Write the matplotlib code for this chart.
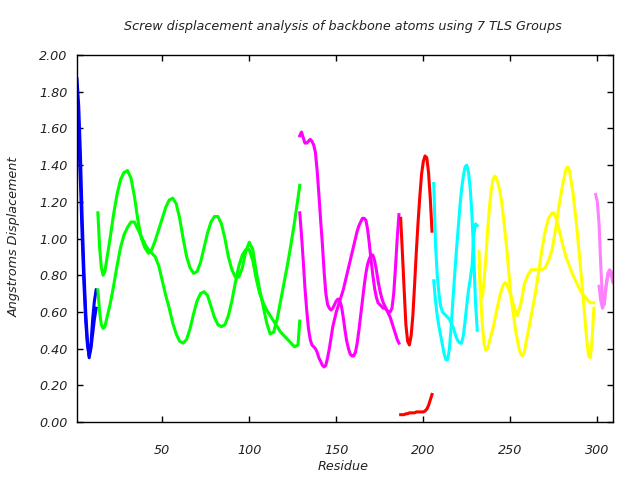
import matplotlib
matplotlib.use('Agg')
import matplotlib.pyplot as plt
from matplotlib.ticker import FormatStrFormatter, MultipleLocator

# ---------------- data (residue, screw displacement in Angstroms) ----------------
blue_x = [1, 2, 3, 4, 5, 6, 7, 8, 9, 10, 11, 12]
blue_a = [1.87, 1.72, 1.45, 1.10, 0.82, 0.60, 0.44, 0.35, 0.42, 0.56, 0.66, 0.72]
blue_b = [1.67, 1.55, 1.30, 1.00, 0.75, 0.55, 0.42, 0.36, 0.40, 0.48, 0.56, 0.62]

green_x = [13, 14, 15, 16, 17, 18, 20, 22, 24, 26, 28, 30, 32, 34, 36, 38, 40, 42, 44,
           46, 48, 50, 52, 54, 56, 58, 60, 62, 64, 66, 68, 70, 72, 74, 76, 78, 80, 82,
           84, 86, 88, 90, 92, 94, 96, 98, 100, 102, 104, 106, 108, 110, 112, 114, 116,
           118, 120, 122, 124, 126, 128, 129]
green_a = [1.14, 0.95, 0.84, 0.80, 0.82, 0.88, 1.00, 1.13, 1.24, 1.32, 1.36, 1.37, 1.33,
           1.23, 1.10, 1.00, 0.95, 0.92, 0.94, 0.99, 1.05, 1.11, 1.17, 1.21, 1.22, 1.19,
           1.11, 1.00, 0.90, 0.84, 0.81, 0.82, 0.87, 0.95, 1.03, 1.09, 1.12, 1.12, 1.08,
           1.00, 0.90, 0.83, 0.79, 0.79, 0.84, 0.93, 0.98, 0.94, 0.82, 0.72, 0.63, 0.54,
           0.48, 0.49, 0.56, 0.66, 0.76, 0.86, 0.97, 1.09, 1.22, 1.29]
green_b = [0.72, 0.60, 0.53, 0.51, 0.52, 0.56, 0.64, 0.74, 0.85, 0.95, 1.02, 1.06, 1.09,
           1.09, 1.05, 1.01, 0.97, 0.94, 0.92, 0.90, 0.85, 0.77, 0.69, 0.62, 0.54, 0.48,
           0.44, 0.43, 0.45, 0.51, 0.59, 0.66, 0.70, 0.71, 0.69, 0.63, 0.57, 0.53, 0.52,
           0.53, 0.58, 0.66, 0.76, 0.85, 0.91, 0.94, 0.94, 0.88, 0.78, 0.70, 0.65, 0.61,
           0.58, 0.55, 0.52, 0.49, 0.47, 0.45, 0.43, 0.41, 0.42, 0.55]

magenta_x = list(range(129, 187))
magenta_a = [1.56, 1.58, 1.55, 1.52, 1.52, 1.53, 1.54, 1.53, 1.51, 1.47, 1.37, 1.24, 1.10,
             0.97, 0.82, 0.70, 0.64, 0.62, 0.61, 0.62, 0.64, 0.66, 0.67, 0.66, 0.63, 0.57,
             0.50, 0.44, 0.40, 0.37, 0.36, 0.36, 0.38, 0.43, 0.50, 0.58, 0.66, 0.74, 0.81,
             0.86, 0.89, 0.91, 0.91, 0.88, 0.83, 0.77, 0.72, 0.68, 0.65, 0.63, 0.61, 0.59,
             0.57, 0.54, 0.51, 0.48, 0.45, 0.43]
magenta_b = [1.14, 1.02, 0.88, 0.73, 0.61, 0.51, 0.45, 0.42, 0.41, 0.40, 0.38, 0.35, 0.33,
             0.31, 0.30, 0.31, 0.35, 0.40, 0.46, 0.52, 0.56, 0.60, 0.63, 0.66, 0.69, 0.72,
             0.76, 0.80, 0.84, 0.88, 0.92, 0.96, 1.00, 1.04, 1.07, 1.09, 1.11, 1.11, 1.10,
             1.05, 0.97, 0.88, 0.80, 0.73, 0.68, 0.65, 0.64, 0.63, 0.62, 0.62, 0.61, 0.60,
             0.60, 0.62, 0.70, 0.84, 1.00, 1.13]

red_x = list(range(187, 206))
red_a = [1.11, 0.92, 0.72, 0.53, 0.44, 0.42, 0.47, 0.58, 0.75, 0.93, 1.09, 1.23, 1.35,
         1.42, 1.45, 1.44, 1.36, 1.22, 1.04]
red_b = [0.04, 0.04, 0.04, 0.045, 0.045, 0.05, 0.05, 0.05, 0.05, 0.055, 0.055, 0.055,
         0.055, 0.055, 0.06, 0.07, 0.09, 0.12, 0.15]

cyan_x = list(range(206, 232))
cyan_a = [1.30, 0.97, 0.80, 0.70, 0.63, 0.60, 0.59, 0.58, 0.57, 0.56, 0.54, 0.52, 0.49,
          0.46, 0.44, 0.43, 0.43, 0.47, 0.55, 0.64, 0.72, 0.78, 0.85, 1.02, 1.08, 1.07]
cyan_b = [0.77, 0.66, 0.58, 0.52, 0.47, 0.42, 0.37, 0.34, 0.34, 0.40, 0.52, 0.66, 0.80,
          0.93, 1.05, 1.17, 1.27, 1.34, 1.39, 1.40, 1.36, 1.27, 1.12, 0.90, 0.65, 0.50]

yellow_x1 = [232, 233, 234, 235, 236, 237, 238, 240, 242, 244, 246, 247, 248, 250, 252,
             254, 256, 258, 260, 262, 264, 266, 268, 270, 272, 274, 276, 278, 280, 282,
             283, 284, 286, 288, 290, 292, 294, 295, 296, 297, 298]
yellow_a = [0.93, 0.68, 0.52, 0.42, 0.39, 0.40, 0.44, 0.51, 0.60, 0.69, 0.75, 0.76, 0.75,
            0.70, 0.63, 0.58, 0.64, 0.75, 0.80, 0.83, 0.83, 0.83, 0.83, 0.84, 0.88, 0.94,
            1.05, 1.18, 1.29, 1.38, 1.39, 1.37, 1.25, 1.08, 0.88, 0.66, 0.44, 0.36, 0.35,
            0.45, 0.62]
yellow_x2 = [232, 233, 234, 235, 236, 237, 238, 239, 240, 241, 242, 243, 244, 245, 246,
             247, 248, 249, 250, 251, 252, 253, 254, 255, 256, 257, 258, 260, 262, 264,
             266, 268, 270, 272, 274, 275, 276, 278, 280, 282, 284, 286, 288, 290, 292,
             294, 296, 298]
yellow_b = [0.85, 0.68, 0.68, 0.78, 0.90, 1.05, 1.17, 1.26, 1.32, 1.34, 1.33, 1.30, 1.26,
            1.20, 1.12, 1.03, 0.94, 0.83, 0.72, 0.64, 0.57, 0.50, 0.45, 0.40, 0.37, 0.36,
            0.38, 0.48, 0.58, 0.68, 0.80, 0.93, 1.04, 1.11, 1.14, 1.14, 1.12, 1.05, 0.97,
            0.90, 0.85, 0.80, 0.76, 0.72, 0.69, 0.67, 0.65, 0.65]

violet_x1 = [299, 300, 301, 302, 303, 304, 305, 306, 307, 308, 309]
violet_a = [1.24, 1.20, 1.08, 0.85, 0.66, 0.64, 0.74, 0.81, 0.83, 0.82, 0.77]
violet_x2 = [301, 302, 303, 304, 305, 306, 307, 308, 309]
violet_b = [0.74, 0.66, 0.62, 0.66, 0.74, 0.79, 0.81, 0.80, 0.76]

x_ticks = [50, 100, 150, 200, 250, 300]

# ---------------- plot ----------------
plt.rcParams['font.family'] = ['DejaVu Sans']
fig = plt.figure(figsize=(6.4, 4.8), dpi=100)
ax = fig.add_axes([0.1203, 0.1208, 0.8375, 0.7646])

series = [
    (blue_x, blue_a, '#0000ff'), (blue_x, blue_b, '#0000ff'),
    (green_x, green_a, '#00ff00'), (green_x, green_b, '#00ff00'),
    (magenta_x, magenta_a, '#ff00ff'), (magenta_x, magenta_b, '#ff00ff'),
    (red_x, red_a, '#ff0000'), (red_x, red_b, '#ff0000'),
    (cyan_x, cyan_a, '#00ffff'), (cyan_x, cyan_b, '#00ffff'),
    (yellow_x1, yellow_a, '#ffff00'), (yellow_x2, yellow_b, '#ffff00'),
    (violet_x1, violet_a, '#ff80ff'), (violet_x2, violet_b, '#ff80ff'),
]
for xs, ys, c in series:
    ax.plot(xs, ys, color=c, lw=2.2, solid_joinstyle='round')

ax.set_xlim(1, 309)
ax.set_ylim(0, 2.0)
ax.set_xticks(x_ticks)
ax.yaxis.set_major_locator(MultipleLocator(0.2))
ax.yaxis.set_major_formatter(FormatStrFormatter('%.2f'))
ax.tick_params(direction='in', top=True, right=True, length=4, width=1, color='black')
ax.tick_params(axis='x', pad=16)
ax.tick_params(axis='y', pad=7)
for lab in ax.get_xticklabels() + ax.get_yticklabels():
    lab.set_fontstyle('italic')
    lab.set_fontsize(9.2)
    lab.set_color('#222222')
for s in ax.spines.values():
    s.set_linewidth(1.0)

fig.text(0.536, 0.944, 'Screw displacement analysis of backbone atoms using 7 TLS Groups',
         ha='center', va='center', style='italic', fontsize=9.2, color='#222222')
fig.text(0.536, 1 - 467 / 480, 'Residue', ha='center', va='center', style='italic',
         fontsize=9.2, color='#222222')
fig.text(14 / 640, 1 - 237 / 480, 'Angstroms Displacement', ha='center', va='center',
         rotation=90, style='italic', fontsize=9.2, color='#222222')

fig.savefig('out.png', dpi=100)
